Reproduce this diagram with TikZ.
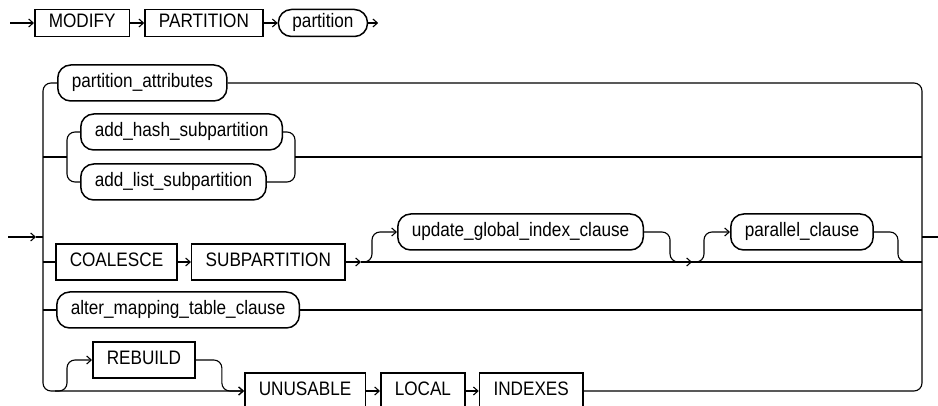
\documentclass[tikz,border=0pt]{standalone}
\usepackage{fontspec}
\setmainfont{Liberation Sans}[FakeStretch=0.88]
\usetikzlibrary{positioning,arrows.meta}

\begin{document}
\begin{tikzpicture}[
    x=1pt, y=-1pt,
    >={Straight Barb[length=4.5pt,width=8pt]},
    line width=1.1pt,
    kw/.style={rectangle, draw, line width=1.5pt, inner xsep=14pt, inner ysep=3pt,
               minimum height=36pt, text height=14pt, text depth=4.5pt,
               font=\fontsize{19.5}{22}\selectfont},
    ref/.style={kw, rounded corners=13pt},
    kwtop/.style={kw, minimum height=27pt},
    reftop/.style={ref, minimum height=27pt},
    rail/.style={rounded corners=8pt}
]
    \useasboundingbox (0,0) rectangle (938,406);

    % first line
    \coordinate (s0) at (10,23);
    \node[kwtop, anchor=west] (modify) at (34,23) {MODIFY};
    \node[kwtop, right=14pt of modify] (partkw) {PARTITION};
    \node[reftop, right=14pt of partkw] (part) {partition};
    \coordinate[right=10pt of part] (s1);
    \draw[->] (s0) -- (modify);
    \draw[->] (modify) -- (partkw);
    \draw[->] (partkw) -- (part);
    \draw[->] (part) -- (s1);

    % rail ends
    \coordinate (in) at (8,237);
    \coordinate (inhead) at (36,237);
    \coordinate (lv) at (43,237);
    \coordinate (rv) at (922,237);
    \coordinate (out) at (938,237);
    \coordinate (lbot) at (43,391);
    \coordinate (rbot) at (922,391);

    % choices
    \node[ref, anchor=west] (pattr) at (57,83) {partition\_attributes};
    \node[ref, anchor=west] (addhash) at (80,132) {add\_hash\_subpartition};
    \node[ref, anchor=west] (addlist) at (80,182) {add\_list\_subpartition};
    \node[kw, anchor=west] (coalesce) at (55,262) {COALESCE};
    \node[kw, right=13pt of coalesce] (subpart) {SUBPARTITION};
    \node[ref, anchor=west] (ugic) at (397,232) {update\_global\_index\_clause};
    \node[ref, anchor=west] (parallel) at (730,232) {parallel\_clause};
    \node[ref, anchor=west] (altermap) at (56,310) {alter\_mapping\_table\_clause};
    \node[kw, anchor=west] (rebuild) at (92,360) {REBUILD};
    \node[kw, anchor=west] (unusable) at (244,391) {UNUSABLE};
    \node[kw, right=14pt of unusable] (local) {LOCAL};
    \node[kw, right=13pt of local] (indexes) {INDEXES};

    % outer rails
    \draw[->] (in) -- (inhead);
    \draw (inhead) -- (lv);
    \draw (rv) -- (out);
    \draw[rail, ->] (pattr.west) -| (lbot) -- (unusable.west);
    \draw[rail] (pattr.east) -| (rbot) -- (indexes.east);

    % add_hash / add_list
    \coordinate (lv2) at (43,157);
    \coordinate (rv2) at (922,157);
    \coordinate (addL) at (67,157);
    \coordinate (addR) at (295,157);
    \draw (lv2) -- (addL);
    \draw[rail] (addhash.west) -| (addL) |- (addlist.west);
    \draw[rail] (addhash.east) -| (addR) |- (addlist.east);
    \draw (addR) -- (rv2);

    % coalesce subpartition
    \coordinate (lv3) at (43,262);
    \coordinate (rv3) at (922,262);
    \coordinate (br1) at (361,262);
    \coordinate (br2) at (692,262);
    \draw (lv3) -- (coalesce);
    \draw[->] (coalesce) -- (subpart);
    \draw[->] (subpart) -- (br1);
    \draw (br1) -- (rv3);
    \draw[rail, ->] (br1) -- ++(11,0) |- (ugic.west);
    \draw[rail, ->] (ugic.east) -- ++(26,0) |- (br2);
    \draw[rail, ->] (br2) -- ++(12,0) |- (parallel.west);
    \draw[rail] (parallel.east) -- ++(24,0) |- (rv3);

    % alter_mapping_table_clause
    \coordinate (lv4) at (43,310);
    \coordinate (rv4) at (922,310);
    \draw (lv4) -- (altermap);
    \draw (altermap) -- (rv4);

    % rebuild / unusable
    \coordinate (rb0) at (55,391);
    \draw[rail, ->] (rb0) -- ++(12,0) |- (rebuild.west);
    \draw[rail, ->] (rebuild.east) -- ++(26,0) |- (unusable.west);
    \draw[->] (unusable) -- (local);
    \draw[->] (local) -- (indexes);
\end{tikzpicture}
\end{document}
